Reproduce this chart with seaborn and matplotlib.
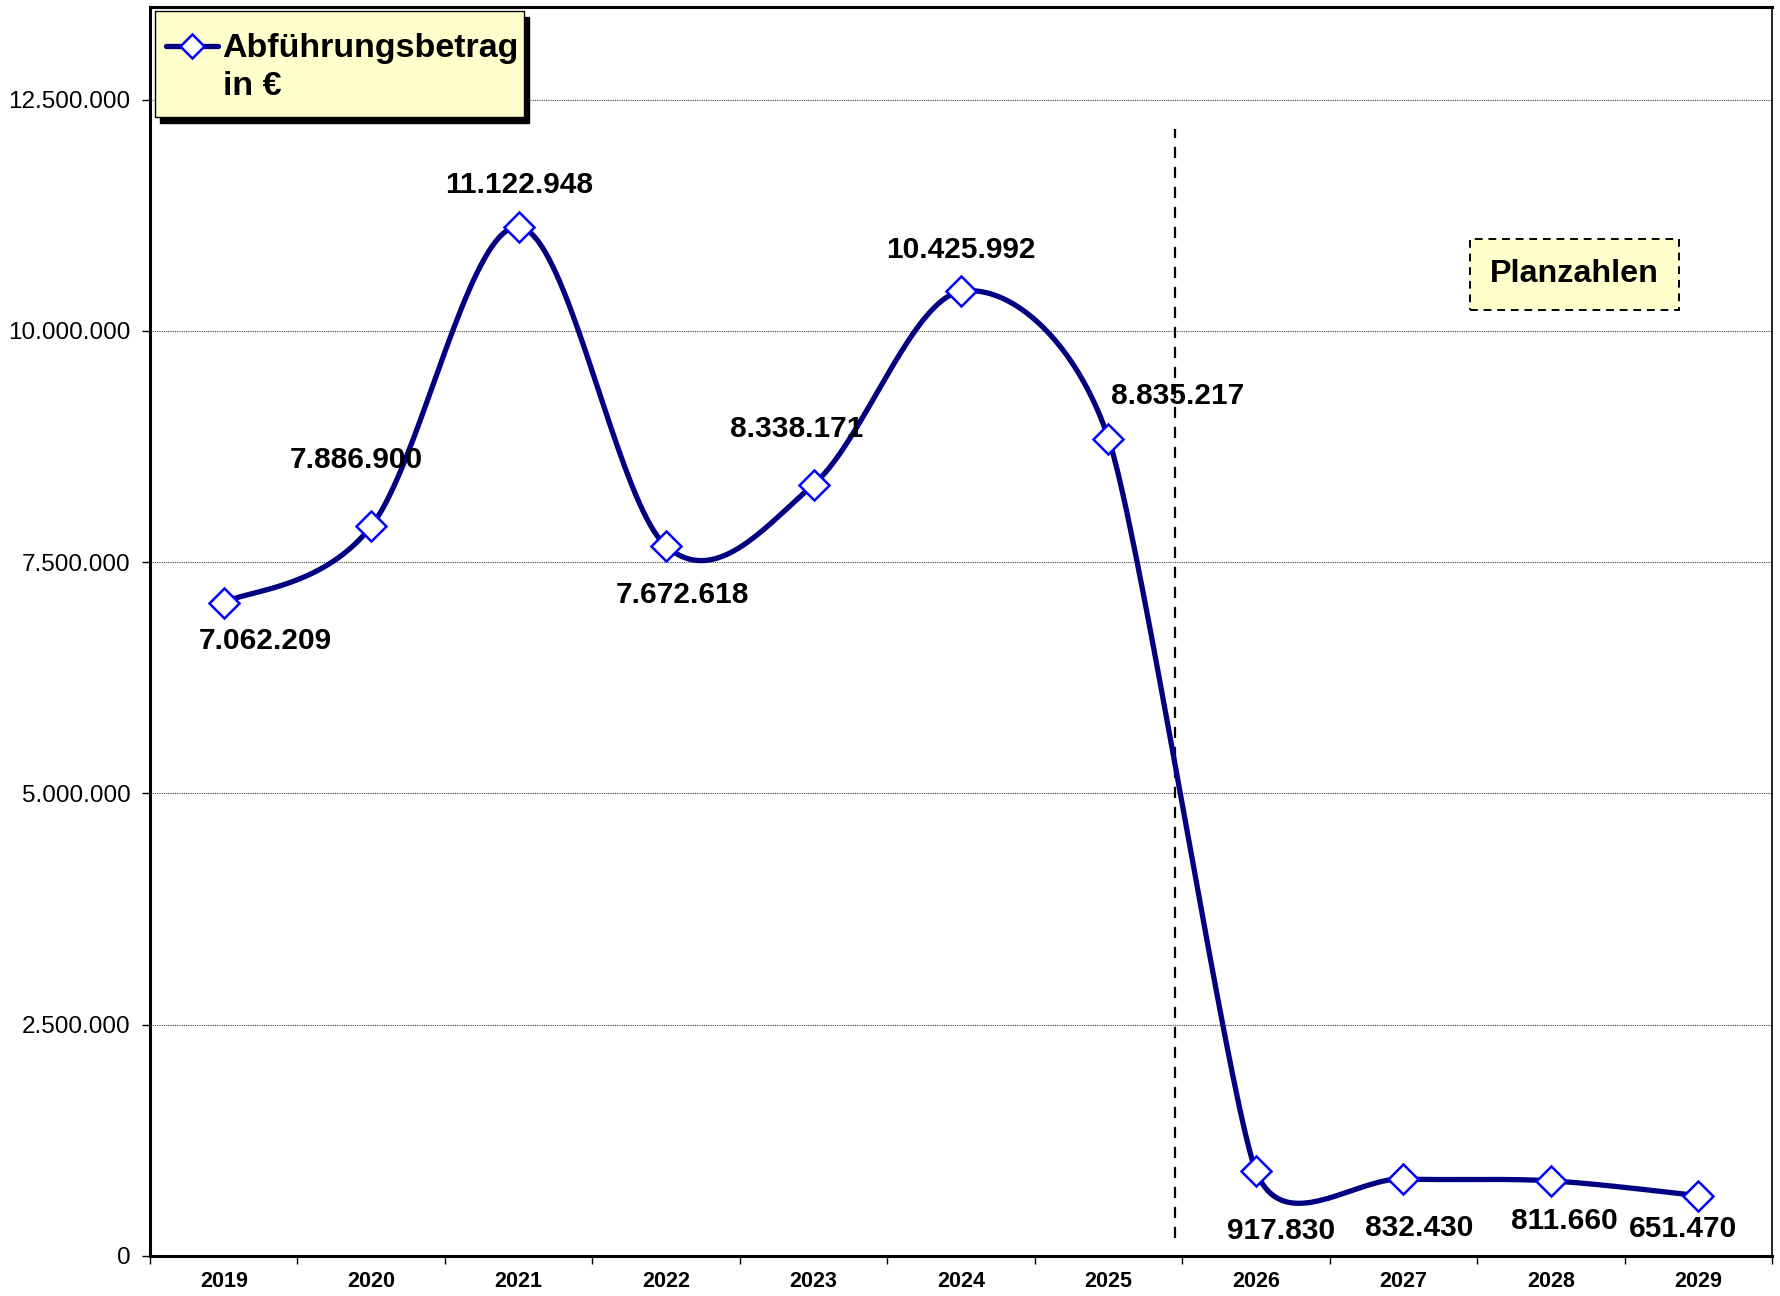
#!/usr/bin/env python3
"""Abführungsbetrag 2019-2029 als geglättete Linie (Excel-Stil)."""

import numpy as np
import pandas as pd
import matplotlib
matplotlib.use("Agg")
import matplotlib.pyplot as plt
from matplotlib.patches import Rectangle
from matplotlib.ticker import FuncFormatter, FixedLocator
import seaborn as sns

# --- data -------------------------------------------------------------
years = ["2019", "2020", "2021", "2022", "2023", "2024", "2025",
         "2026", "2027", "2028", "2029"]
amounts = [7062209, 7886900, 11122948, 7672618, 8338171, 10425992,
           8835217, 917830, 832430, 811660, 651470]
series_label = "Abführungsbetrag"
series_unit = "in €"
plan_label = "Planzahlen"

# label offsets (points) relative to each marker
label_offsets = [(30, -28), (-11, 48), (0, 30), (12, -35), (-12, 40), (0, 30),
                 (50, 31), (18, -43), (11, -35), (10, -29), (-11, -24)]

NAVY = "#000080"
BLUE = "#0000FF"
YMAX = 13_500_000


def de_format(v, _pos=None):
    return f"{v:,.0f}".replace(",", ".")


def smooth_curve(x, y, xscale, yscale, n=40):
    """Excel-like smoothed line: cubic Bezier, handle length capped at
    half of the neighbouring segments."""
    p = np.column_stack([np.asarray(x, float) * xscale,
                         np.asarray(y, float) * yscale])
    m = len(p)
    tang = np.zeros_like(p)
    for i in range(m):
        p0 = p[max(i - 1, 0)]
        p2 = p[min(i + 1, m - 1)]
        d02 = np.linalg.norm(p2 - p0)
        if d02 == 0:
            continue
        d01 = np.linalg.norm(p[i] - p0)
        d12 = np.linalg.norm(p2 - p[i])
        arm = d02 / 6
        if i > 0:
            arm = min(arm, d01 / 2)
        if i < m - 1:
            arm = min(arm, d12 / 2)
        tang[i] = (p2 - p0) / d02 * arm
    pts = []
    t = np.linspace(0, 1, n)[:, None]
    for i in range(m - 1):
        p1, p2 = p[i], p[i + 1]
        c1 = p1 + tang[i]
        c2 = p2 - tang[i + 1]
        seg = ((1 - t) ** 3 * p1 + 3 * (1 - t) ** 2 * t * c1
               + 3 * (1 - t) * t ** 2 * c2 + t ** 3 * p2)
        pts.append(seg if i == 0 else seg[1:])
    pts = np.vstack(pts)
    return pts[:, 0] / xscale, pts[:, 1] / yscale


df = pd.DataFrame({"year": years, "amount": amounts})
df["pos"] = np.arange(len(df))

sns.set_theme(style="white")
plt.rcParams["font.family"] = ["Liberation Sans", "DejaVu Sans"]
plt.rcParams["text.color"] = "black"
plt.rcParams["xtick.color"] = "black"
plt.rcParams["ytick.color"] = "black"

fig = plt.figure(figsize=(17.81, 12.96), dpi=100)
ax = fig.add_axes([0.0842, 0.0309, 0.9108, 0.9637])

ax.set_xlim(-0.5, len(df) - 0.5)
ax.set_ylim(0, YMAX)

# smoothing in screen space (px per unit)
bbox = ax.get_window_extent()
sx, sy = smooth_curve(df["pos"], df["amount"],
                      bbox.width / len(df), bbox.height / YMAX)
sns.lineplot(x=sx, y=sy, ax=ax, color=NAVY, linewidth=3.8,
             sort=False, estimator=None, zorder=3)
ax.plot(df["pos"], df["amount"], linestyle="none", marker="D",
        markersize=15.5, markerfacecolor="white", markeredgecolor=BLUE,
        markeredgewidth=1.8, zorder=4)

# value labels
for (_, row), (dx, dy) in zip(df.iterrows(), label_offsets):
    ax.annotate(de_format(row["amount"]), (row["pos"], row["amount"]),
                xytext=(dx, dy), textcoords="offset points",
                ha="center", va="center", fontsize=21.5, fontweight="bold",
                color="black", zorder=5)

# divider between actual and planned figures
divider_x = 6.45
ax.plot([divider_x, divider_x], [196_000, 12_180_000], color="black",
        linewidth=1.6, linestyle=(0, (5, 4)), zorder=2)

ax.text(9.16, 10_610_000, plan_label, ha="center", va="center",
        fontsize=23.3, fontweight="bold", color="black",
        bbox=dict(boxstyle="square,pad=0.63", facecolor="#FFFFCC",
                  edgecolor="black", linewidth=1.4, linestyle=(0, (4, 3))))

# axes styling
ax.yaxis.set_major_locator(FixedLocator(np.arange(0, 12_500_001, 2_500_000)))
ax.yaxis.set_major_formatter(FuncFormatter(de_format))
ax.set_xticks(df["pos"])
ax.set_xticklabels(df["year"], fontsize=15.5, fontweight="bold")
ax.set_xticks(np.arange(-0.5, len(df) - 0.4, 1), minor=True)
ax.tick_params(axis="x", which="major", length=0, pad=11)
ax.tick_params(axis="x", which="minor", length=6, width=1, color="black",
               direction="out", bottom=True)
ax.tick_params(axis="y", which="major", length=6, width=1, color="black",
               direction="out", left=True, labelsize=17.5, pad=8)
ax.grid(axis="y", color="#444444", linestyle=(0, (1, 1)), linewidth=0.8)
ax.grid(axis="x", visible=False)
ax.set_axisbelow(True)
for name, sp in ax.spines.items():
    sp.set_visible(True)
    sp.set_color("black")
    sp.set_linewidth(2.2 if name in ("left", "bottom", "top") else 1.2)
ax.set_xlabel("")
ax.set_ylabel("")

# legend box drawn by hand (handle aligned with first text line)
lx0, ly0, lw, lh = 0.0028, 0.9118, 0.2276, 0.0846
ax.add_patch(Rectangle((lx0 + 0.0035, ly0 - 0.0045), lw, lh,
                       transform=ax.transAxes, facecolor="black",
                       edgecolor="black", zorder=6, clip_on=False))
ax.add_patch(Rectangle((lx0, ly0), lw, lh, transform=ax.transAxes,
                       facecolor="#FFFFCC", edgecolor="black", linewidth=1.0,
                       zorder=7, clip_on=False))
ax.plot([0.0098, 0.042], [0.969, 0.969], transform=ax.transAxes,
        color=NAVY, linewidth=3.8, zorder=8, clip_on=False)
ax.plot([0.0259], [0.969], transform=ax.transAxes, marker="D",
        markersize=12, markerfacecolor="white", markeredgecolor=BLUE,
        markeredgewidth=1.8, zorder=9, clip_on=False)
ax.text(0.0448, 0.967, series_label, transform=ax.transAxes, ha="left",
        va="center", fontsize=24.5, fontweight="bold", zorder=9)
ax.text(0.0448, 0.936, series_unit, transform=ax.transAxes, ha="left",
        va="center", fontsize=24.5, fontweight="bold", zorder=9)

fig.savefig("out.png", dpi=100, facecolor="white")
